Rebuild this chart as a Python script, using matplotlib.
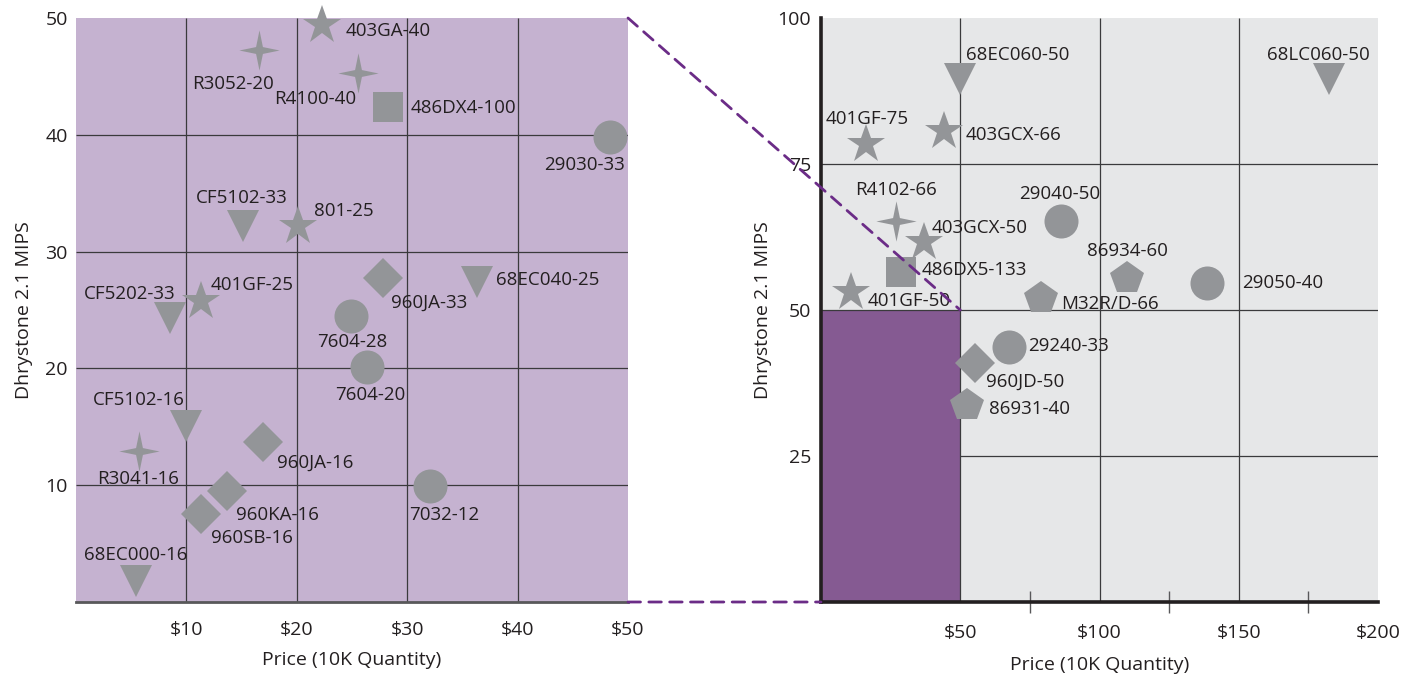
import matplotlib.pyplot as plt
from matplotlib.patches import Rectangle, ConnectionPatch
from matplotlib.path import Path

plt.rcParams['font.family'] = ['Open Sans', 'DejaVu Sans']

# ---- data: left panel (zoom on $0-50 / 0-50 MIPS) ----
left_names = ['403GA-40', 'R3052-20', 'R4100-40', '486DX4-100', '29030-33',
              'CF5102-33', '801-25', '960JA-33', '68EC040-25', '401GF-25',
              'CF5202-33', '7604-28', '7604-20', 'CF5102-16', 'R3041-16',
              '960JA-16', '960KA-16', '960SB-16', '7032-12', '68EC000-16']
left_price = [22.3, 16.6, 25.5, 28.3, 48.4,
              15.1, 20.1, 27.8, 36.3, 11.3,
              8.5, 24.9, 26.4, 10.0, 5.7,
              16.9, 13.7, 11.3, 32.1, 5.4]
left_mips = [49.4, 47.3, 45.3, 42.4, 39.8,
             32.2, 32.2, 27.7, 27.4, 25.8,
             24.3, 24.5, 20.1, 15.1, 12.9,
             13.7, 9.5, 7.5, 9.9, 1.8]
left_shape = ['star', 'spark', 'spark', 'square', 'circle',
              'tri', 'star', 'diamond', 'tri', 'star',
              'tri', 'circle', 'circle', 'tri', 'spark',
              'diamond', 'diamond', 'diamond', 'circle', 'tri']

# ---- data: right panel (full range) ----
right_names = ['68EC060-50', '68LC060-50', '401GF-75', '403GCX-66', 'R4102-66',
               '403GCX-50', '29040-50', '486DX5-133', '86934-60', '29050-40',
               '401GF-50', 'M32R/D-66', '29240-33', '960JD-50', '86931-40']
right_price = [50, 182.5, 16, 44, 26.8,
               37, 86, 28.6, 110, 138.6,
               10.7, 79, 67.5, 55.4, 52.5]
right_mips = [89.5, 89.5, 78.5, 80.6, 65.3,
              61.7, 65.3, 56.5, 55.5, 54.6,
              53.0, 52.0, 43.6, 41.0, 33.8]
right_shape = ['tri', 'tri', 'star', 'star', 'spark',
               'star', 'circle', 'square', 'pent', 'circle',
               'star', 'pent', 'circle', 'diamond', 'pent']

left_xticks = [10, 20, 30, 40, 50]
left_yticks = [10, 20, 30, 40, 50]
right_xticks = [50, 100, 150, 200]
right_yticks = [25, 50, 75, 100]

# label offsets in pixels (left edge of text, vertical centre; +dy = down)
left_offsets = {
    '403GA-40': (23, 6), 'R3052-20': (-67, 34), 'R4100-40': (-83, 26),
    '486DX4-100': (22, 1), '29030-33': (-66, 28), 'CF5102-33': (-47, -28),
    '801-25': (16, -15), '960JA-33': (8, 24), '68EC040-25': (19, -2),
    '401GF-25': (10, -16), 'CF5202-33': (-86, -24), '7604-28': (-34, 26),
    '7604-20': (-32, 28), 'CF5102-16': (-94, -26), 'R3041-16': (-42, 28),
    '960JA-16': (14, 21), '960KA-16': (9, 24), '960SB-16': (10, 24),
    '7032-12': (-21, 29), '68EC000-16': (-52, -26),
}
right_offsets = {
    '68EC060-50': (6, -24), '68LC060-50': (-62, -24), '401GF-75': (-40, -25),
    '403GCX-66': (22, 4), 'R4102-66': (-41, -31), '403GCX-50': (8, -14),
    '29040-50': (-41, -27), '486DX5-133': (21, -2), '86934-60': (-40, -27),
    '29050-40': (35, 0), '401GF-50': (17, 9), 'M32R/D-66': (20, 6),
    '29240-33': (19, -1), '960JD-50': (11, 19), '86931-40': (22, 4),
}

# colours
marker_grey = '#939598'
text_col = '#231F20'
left_bg = '#C5B2D0'
right_bg = '#E6E7E8'
purple = '#855A92'
dash_purple = '#6B2C87'
grid_col = '#3A3A3C'

a = 0.17
spark = Path([(0, 1), (a, a), (1, 0), (a, -a), (0, -1), (-a, -a), (-1, 0), (-a, a), (0, 1)],
             [Path.MOVETO] + [Path.LINETO] * 7 + [Path.CLOSEPOLY])
markers = {
    'circle': ('o', 24.5),
    'star': ('*', 29.5),
    'tri': ('v', 23),
    'square': ('s', 21.5),
    'diamond': ('D', 20),
    'pent': ('p', 25),
    'spark': (spark, 29),
}


def draw_points(ax, names, xs, ys, shapes, offsets):
    for name, x, y, shp in zip(names, xs, ys, shapes):
        m, ms = markers[shp]
        ax.plot(x, y, marker=m, markersize=ms, color=marker_grey,
                markeredgewidth=0, linestyle='none', zorder=4, clip_on=False)
        dx, dy = offsets[name]
        ax.annotate(name, (x, y), xytext=(dx, -dy), textcoords='offset pixels',
                    ha='left', va='center', fontsize=13.5, color=text_col, zorder=5)


fig = plt.figure(figsize=(14.14, 6.75), dpi=100)
ax1 = fig.add_axes([76 / 1414, 1 - 602 / 675, 552 / 1414, 584 / 675])
ax2 = fig.add_axes([821 / 1414, 1 - 602 / 675, 557 / 1414, 584 / 675])

# ---- left panel ----
ax1.set_xlim(0, 50)
ax1.set_ylim(0, 50)
ax1.set_facecolor(left_bg)
for s in ['top', 'right', 'left']:
    ax1.spines[s].set_visible(False)
ax1.spines['bottom'].set_color('#58585A')
ax1.spines['bottom'].set_linewidth(2)
ax1.vlines(left_xticks[:-1], 0, 50, color=grid_col, lw=0.9, zorder=1)
ax1.hlines(left_yticks[:-1], 0, 50, color=grid_col, lw=0.9, zorder=1)
ax1.set_xticks(left_xticks)
ax1.set_xticklabels(['$%d' % v for v in left_xticks])
ax1.set_yticks(left_yticks)
ax1.tick_params(length=0, labelsize=14, colors=text_col)
ax1.tick_params(axis='x', pad=14)
ax1.tick_params(axis='y', pad=6)
ax1.set_xlabel('Price (10K Quantity)', fontsize=14, color=text_col, labelpad=8)
ax1.set_ylabel('Dhrystone 2.1 MIPS', fontsize=14, color=text_col, labelpad=9)
draw_points(ax1, left_names, left_price, left_mips, left_shape, left_offsets)

# ---- right panel ----
ax2.set_xlim(0, 200)
ax2.set_ylim(0, 100)
ax2.set_facecolor(right_bg)
for s in ['top', 'right']:
    ax2.spines[s].set_visible(False)
for s in ['left', 'bottom']:
    ax2.spines[s].set_color('#231F20')
    ax2.spines[s].set_linewidth(2.6)
    ax2.spines[s].set_zorder(6)
ax2.add_patch(Rectangle((0, 0), 50, 50, facecolor=purple, edgecolor='none', zorder=1))
ax2.vlines(right_xticks[:-1], 0, 100, color=grid_col, lw=0.9, zorder=2)
ax2.hlines([75, 50], 0, 200, color=grid_col, lw=0.9, zorder=2)
ax2.hlines(25, 50, 200, color=grid_col, lw=0.9, zorder=2)
ax2.set_xticks(right_xticks)
ax2.set_xticklabels(['$%d' % v for v in right_xticks])
ax2.set_xticks([50, 75, 100, 125, 150, 175], minor=True)
ax2.set_yticks(right_yticks)
ax2.tick_params(which='major', length=0, labelsize=14, colors=text_col)
ax2.tick_params(axis='x', which='major', pad=16)
ax2.tick_params(axis='y', which='major', pad=7)
ax2.tick_params(axis='x', which='minor', direction='inout', length=16, width=1,
                color='#58585A')
ax2.tick_params(axis='y', which='minor', length=0)
ax2.set_xlabel('Price (10K Quantity)', fontsize=14, color=text_col, labelpad=10)
ax2.set_ylabel('Dhrystone 2.1 MIPS', fontsize=14, color=text_col, labelpad=4)
draw_points(ax2, right_names, right_price, right_mips, right_shape, right_offsets)

# ---- dashed zoom connectors ----
for (xa, ya), (xb, yb) in [((50, 50), (50, 50)), ((50, 0), (0, 0))]:
    con = ConnectionPatch(xyA=(xa, ya), coordsA=ax1.transData,
                          xyB=(xb, yb), coordsB=ax2.transData,
                          color=dash_purple, lw=2, linestyle=(0, (4.5, 3)), zorder=10)
    fig.add_artist(con)

fig.savefig('out.png', dpi=100)
